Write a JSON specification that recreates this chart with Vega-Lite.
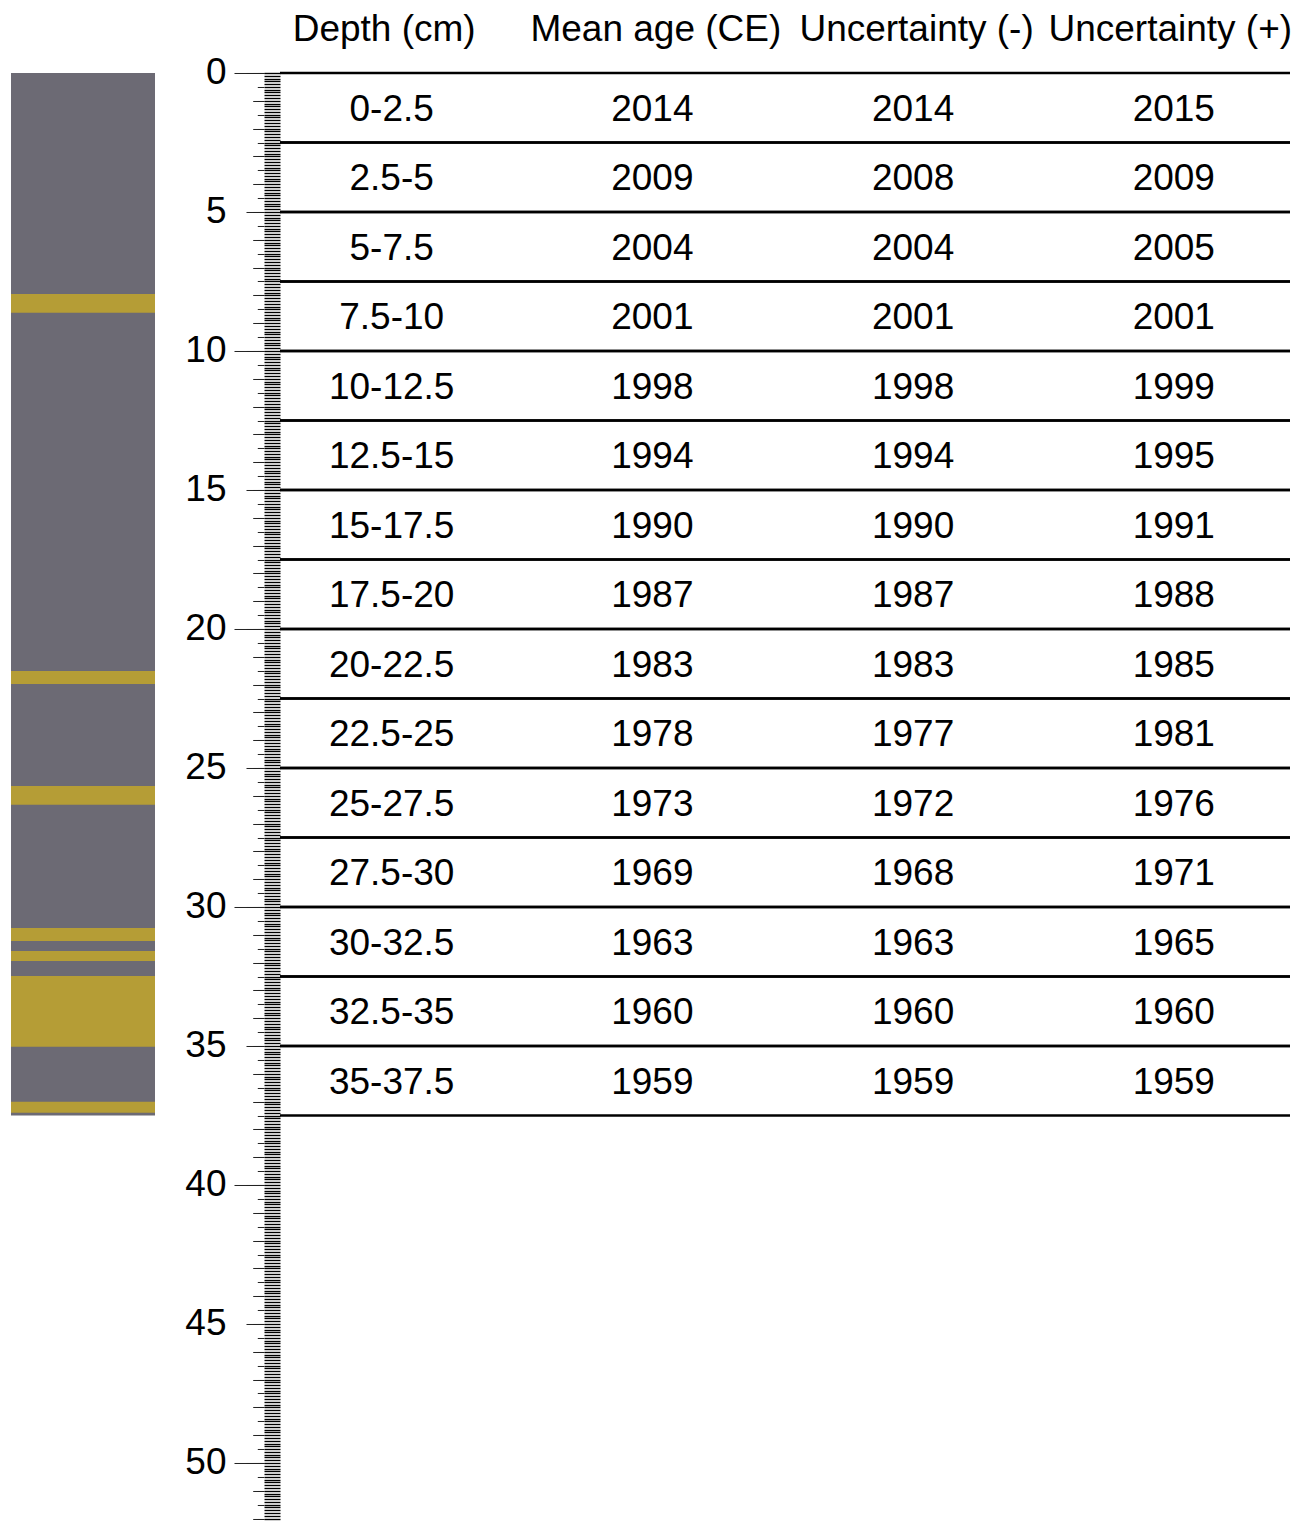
{
  "$schema": "https://vega.github.io/schema/vega-lite/v6.json",
  "background": "white",
  "padding": {"left": 11, "top": 11, "right": 25, "bottom": 5},
  "bounds": "flush",
  "spacing": 125,
  "datasets": {
    "samples": [
      {"depth": "0-2.5", "top": 0, "bottom": 2.5, "mid": 1.25, "mean": 2014, "minus": 2014, "plus": 2015},
      {"depth": "2.5-5", "top": 2.5, "bottom": 5, "mid": 3.75, "mean": 2009, "minus": 2008, "plus": 2009},
      {"depth": "5-7.5", "top": 5, "bottom": 7.5, "mid": 6.25, "mean": 2004, "minus": 2004, "plus": 2005},
      {"depth": "7.5-10", "top": 7.5, "bottom": 10, "mid": 8.75, "mean": 2001, "minus": 2001, "plus": 2001},
      {"depth": "10-12.5", "top": 10, "bottom": 12.5, "mid": 11.25, "mean": 1998, "minus": 1998, "plus": 1999},
      {"depth": "12.5-15", "top": 12.5, "bottom": 15, "mid": 13.75, "mean": 1994, "minus": 1994, "plus": 1995},
      {"depth": "15-17.5", "top": 15, "bottom": 17.5, "mid": 16.25, "mean": 1990, "minus": 1990, "plus": 1991},
      {"depth": "17.5-20", "top": 17.5, "bottom": 20, "mid": 18.75, "mean": 1987, "minus": 1987, "plus": 1988},
      {"depth": "20-22.5", "top": 20, "bottom": 22.5, "mid": 21.25, "mean": 1983, "minus": 1983, "plus": 1985},
      {"depth": "22.5-25", "top": 22.5, "bottom": 25, "mid": 23.75, "mean": 1978, "minus": 1977, "plus": 1981},
      {"depth": "25-27.5", "top": 25, "bottom": 27.5, "mid": 26.25, "mean": 1973, "minus": 1972, "plus": 1976},
      {"depth": "27.5-30", "top": 27.5, "bottom": 30, "mid": 28.75, "mean": 1969, "minus": 1968, "plus": 1971},
      {"depth": "30-32.5", "top": 30, "bottom": 32.5, "mid": 31.25, "mean": 1963, "minus": 1963, "plus": 1965},
      {"depth": "32.5-35", "top": 32.5, "bottom": 35, "mid": 33.75, "mean": 1960, "minus": 1960, "plus": 1960},
      {"depth": "35-37.5", "top": 35, "bottom": 37.5, "mid": 36.25, "mean": 1959, "minus": 1959, "plus": 1959}
    ],
    "core": [
      {"unit": "matrix", "top": 0, "bottom": 37.5},
      {"unit": "tephra", "top": 7.95, "bottom": 8.62},
      {"unit": "tephra", "top": 21.51, "bottom": 21.98},
      {"unit": "tephra", "top": 25.65, "bottom": 26.32},
      {"unit": "tephra", "top": 30.76, "bottom": 31.22},
      {"unit": "tephra", "top": 31.58, "bottom": 31.94},
      {"unit": "tephra", "top": 32.48, "bottom": 35.03},
      {"unit": "tephra", "top": 37.01, "bottom": 37.4}
    ]
  },
  "hconcat": [
    {
      "width": 144,
      "height": 1445.6,
      "data": {"name": "core"},
      "mark": {"type": "rect"},
      "encoding": {
        "y": {"field": "top", "type": "quantitative", "scale": {"domain": [0, 52], "reverse": true, "nice": false, "zero": false}, "axis": null},
        "y2": {"field": "bottom"},
        "color": {"field": "unit", "type": "nominal", "scale": {"domain": ["matrix", "tephra"], "range": ["#6c6a74", "#b59d36"]}, "legend": null}
      }
    },
    {
      "width": 1010,
      "height": 1445.6,
      "data": {"name": "samples"},
      "resolve": {"axis": {"y": "independent"}},
      "layer": [
        {
          "mark": {"type": "rule", "color": "black", "strokeWidth": 2.5},
          "encoding": {
            "y": {"field": "top", "type": "quantitative", "scale": {"domain": [0, 52], "reverse": true, "nice": false, "zero": false},
              "axis": {"orient": "left", "tickCount": 520, "tickSize": 16, "tickColor": "black", "tickWidth": 1.4, "labels": false, "domain": false, "title": null, "offset": 0}}
          }
        },
        {
          "mark": {"type": "rule", "color": "black", "strokeWidth": 2.5},
          "encoding": {
            "y": {"field": "bottom", "type": "quantitative", "scale": {"domain": [0, 52], "reverse": true, "nice": false, "zero": false}, "axis": null}
          }
        },
        {
          "mark": {"type": "text", "fontSize": 37, "font": "Liberation Sans", "color": "black", "align": "center", "baseline": "middle", "dy": 2},
          "encoding": {
            "x": {"datum": "Depth (cm)", "type": "nominal",
              "scale": {"type": "point", "domain": ["Depth (cm)", "Mean age (CE)", "Uncertainty (-)", "Uncertainty (+)"], "padding": 0.437, "align": 0.49},
              "axis": {"orient": "top", "title": null, "domain": false, "ticks": false, "labelPadding": 32, "labelBaseline": "alphabetic", "labelFontSize": 37, "labelFont": "Liberation Sans", "labelColor": "black", "labelAngle": 0, "labelLimit": 400, "labelOverlap": false,
                "labelOffset": {"condition": [{"test": "datum.value === 'Depth (cm)'", "value": -8}, {"test": "datum.value === 'Uncertainty (+)'", "value": -4}], "value": 3}}},
            "y": {"field": "mid", "type": "quantitative", "scale": {"domain": [0, 52], "reverse": true, "nice": false, "zero": false},
              "axis": {"orient": "left", "values": [0, 5, 10, 15, 20, 25, 30, 35, 40, 45, 50], "tickSize": 18, "tickColor": "#222", "tickWidth": 1, "offset": 16, "labelPadding": 20, "labelFontSize": 37, "labelFont": "Liberation Sans", "labelColor": "black", "labelOverlap": false, "domain": false, "title": null}},
            "text": {"field": "depth", "type": "nominal"}
          }
        },
        {
          "mark": {"type": "text", "fontSize": 37, "font": "Liberation Sans", "color": "black", "align": "center", "baseline": "middle", "dy": 2},
          "encoding": {
            "x": {"datum": "Mean age (CE)", "type": "nominal",
              "scale": {"type": "point", "domain": ["Depth (cm)", "Mean age (CE)", "Uncertainty (-)", "Uncertainty (+)"], "padding": 0.437, "align": 0.49},
              "axis": {"orient": "top", "title": null, "domain": false, "ticks": false, "labelPadding": 32, "labelBaseline": "alphabetic", "labelFontSize": 37, "labelFont": "Liberation Sans", "labelColor": "black", "labelAngle": 0, "labelLimit": 400, "labelOverlap": false,
                "labelOffset": {"condition": [{"test": "datum.value === 'Depth (cm)'", "value": -8}, {"test": "datum.value === 'Uncertainty (+)'", "value": -4}], "value": 3}}},
            "y": {"field": "mid", "type": "quantitative", "scale": {"domain": [0, 52], "reverse": true, "nice": false, "zero": false},
              "axis": {"orient": "left", "values": [0, 10, 20, 30, 40, 50], "tickSize": 30, "tickColor": "#222", "tickWidth": 1, "offset": 16, "labels": false, "domain": false, "title": null}},
            "text": {"field": "mean", "type": "nominal"}
          }
        },
        {
          "mark": {"type": "text", "fontSize": 37, "font": "Liberation Sans", "color": "black", "align": "center", "baseline": "middle", "dy": 2},
          "encoding": {
            "x": {"datum": "Uncertainty (-)", "type": "nominal",
              "scale": {"type": "point", "domain": ["Depth (cm)", "Mean age (CE)", "Uncertainty (-)", "Uncertainty (+)"], "padding": 0.437, "align": 0.49},
              "axis": {"orient": "top", "title": null, "domain": false, "ticks": false, "labelPadding": 32, "labelBaseline": "alphabetic", "labelFontSize": 37, "labelFont": "Liberation Sans", "labelColor": "black", "labelAngle": 0, "labelLimit": 400, "labelOverlap": false,
                "labelOffset": {"condition": [{"test": "datum.value === 'Depth (cm)'", "value": -8}, {"test": "datum.value === 'Uncertainty (+)'", "value": -4}], "value": 3}}},
            "y": {"field": "mid", "type": "quantitative", "scale": {"domain": [0, 52], "reverse": true, "nice": false, "zero": false},
              "axis": {"orient": "left", "tickCount": 52, "tickSize": 11.3, "tickColor": "#222", "tickWidth": 1, "offset": 16, "labels": false, "domain": false, "title": null}},
            "text": {"field": "minus", "type": "nominal"}
          }
        },
        {
          "mark": {"type": "text", "fontSize": 37, "font": "Liberation Sans", "color": "black", "align": "center", "baseline": "middle", "dy": 2},
          "encoding": {
            "x": {"datum": "Uncertainty (+)", "type": "nominal",
              "scale": {"type": "point", "domain": ["Depth (cm)", "Mean age (CE)", "Uncertainty (-)", "Uncertainty (+)"], "padding": 0.437, "align": 0.49},
              "axis": {"orient": "top", "title": null, "domain": false, "ticks": false, "labelPadding": 32, "labelBaseline": "alphabetic", "labelFontSize": 37, "labelFont": "Liberation Sans", "labelColor": "black", "labelAngle": 0, "labelLimit": 400, "labelOverlap": false,
                "labelOffset": {"condition": [{"test": "datum.value === 'Depth (cm)'", "value": -8}, {"test": "datum.value === 'Uncertainty (+)'", "value": -4}], "value": 3}}},
            "y": {"field": "mid", "type": "quantitative", "scale": {"domain": [0, 52], "reverse": true, "nice": false, "zero": false},
              "axis": {"orient": "left", "tickCount": 104, "tickSize": 6.7, "tickColor": "#222", "tickWidth": 1, "offset": 16, "labels": false, "domain": false, "title": null}},
            "text": {"field": "plus", "type": "nominal"}
          }
        }
      ]
    }
  ],
  "config": {
    "view": {"stroke": null},
    "axis": {"grid": false, "labelFont": "Liberation Sans", "labelColor": "black"},
    "text": {"font": "Liberation Sans"}
  }
}
